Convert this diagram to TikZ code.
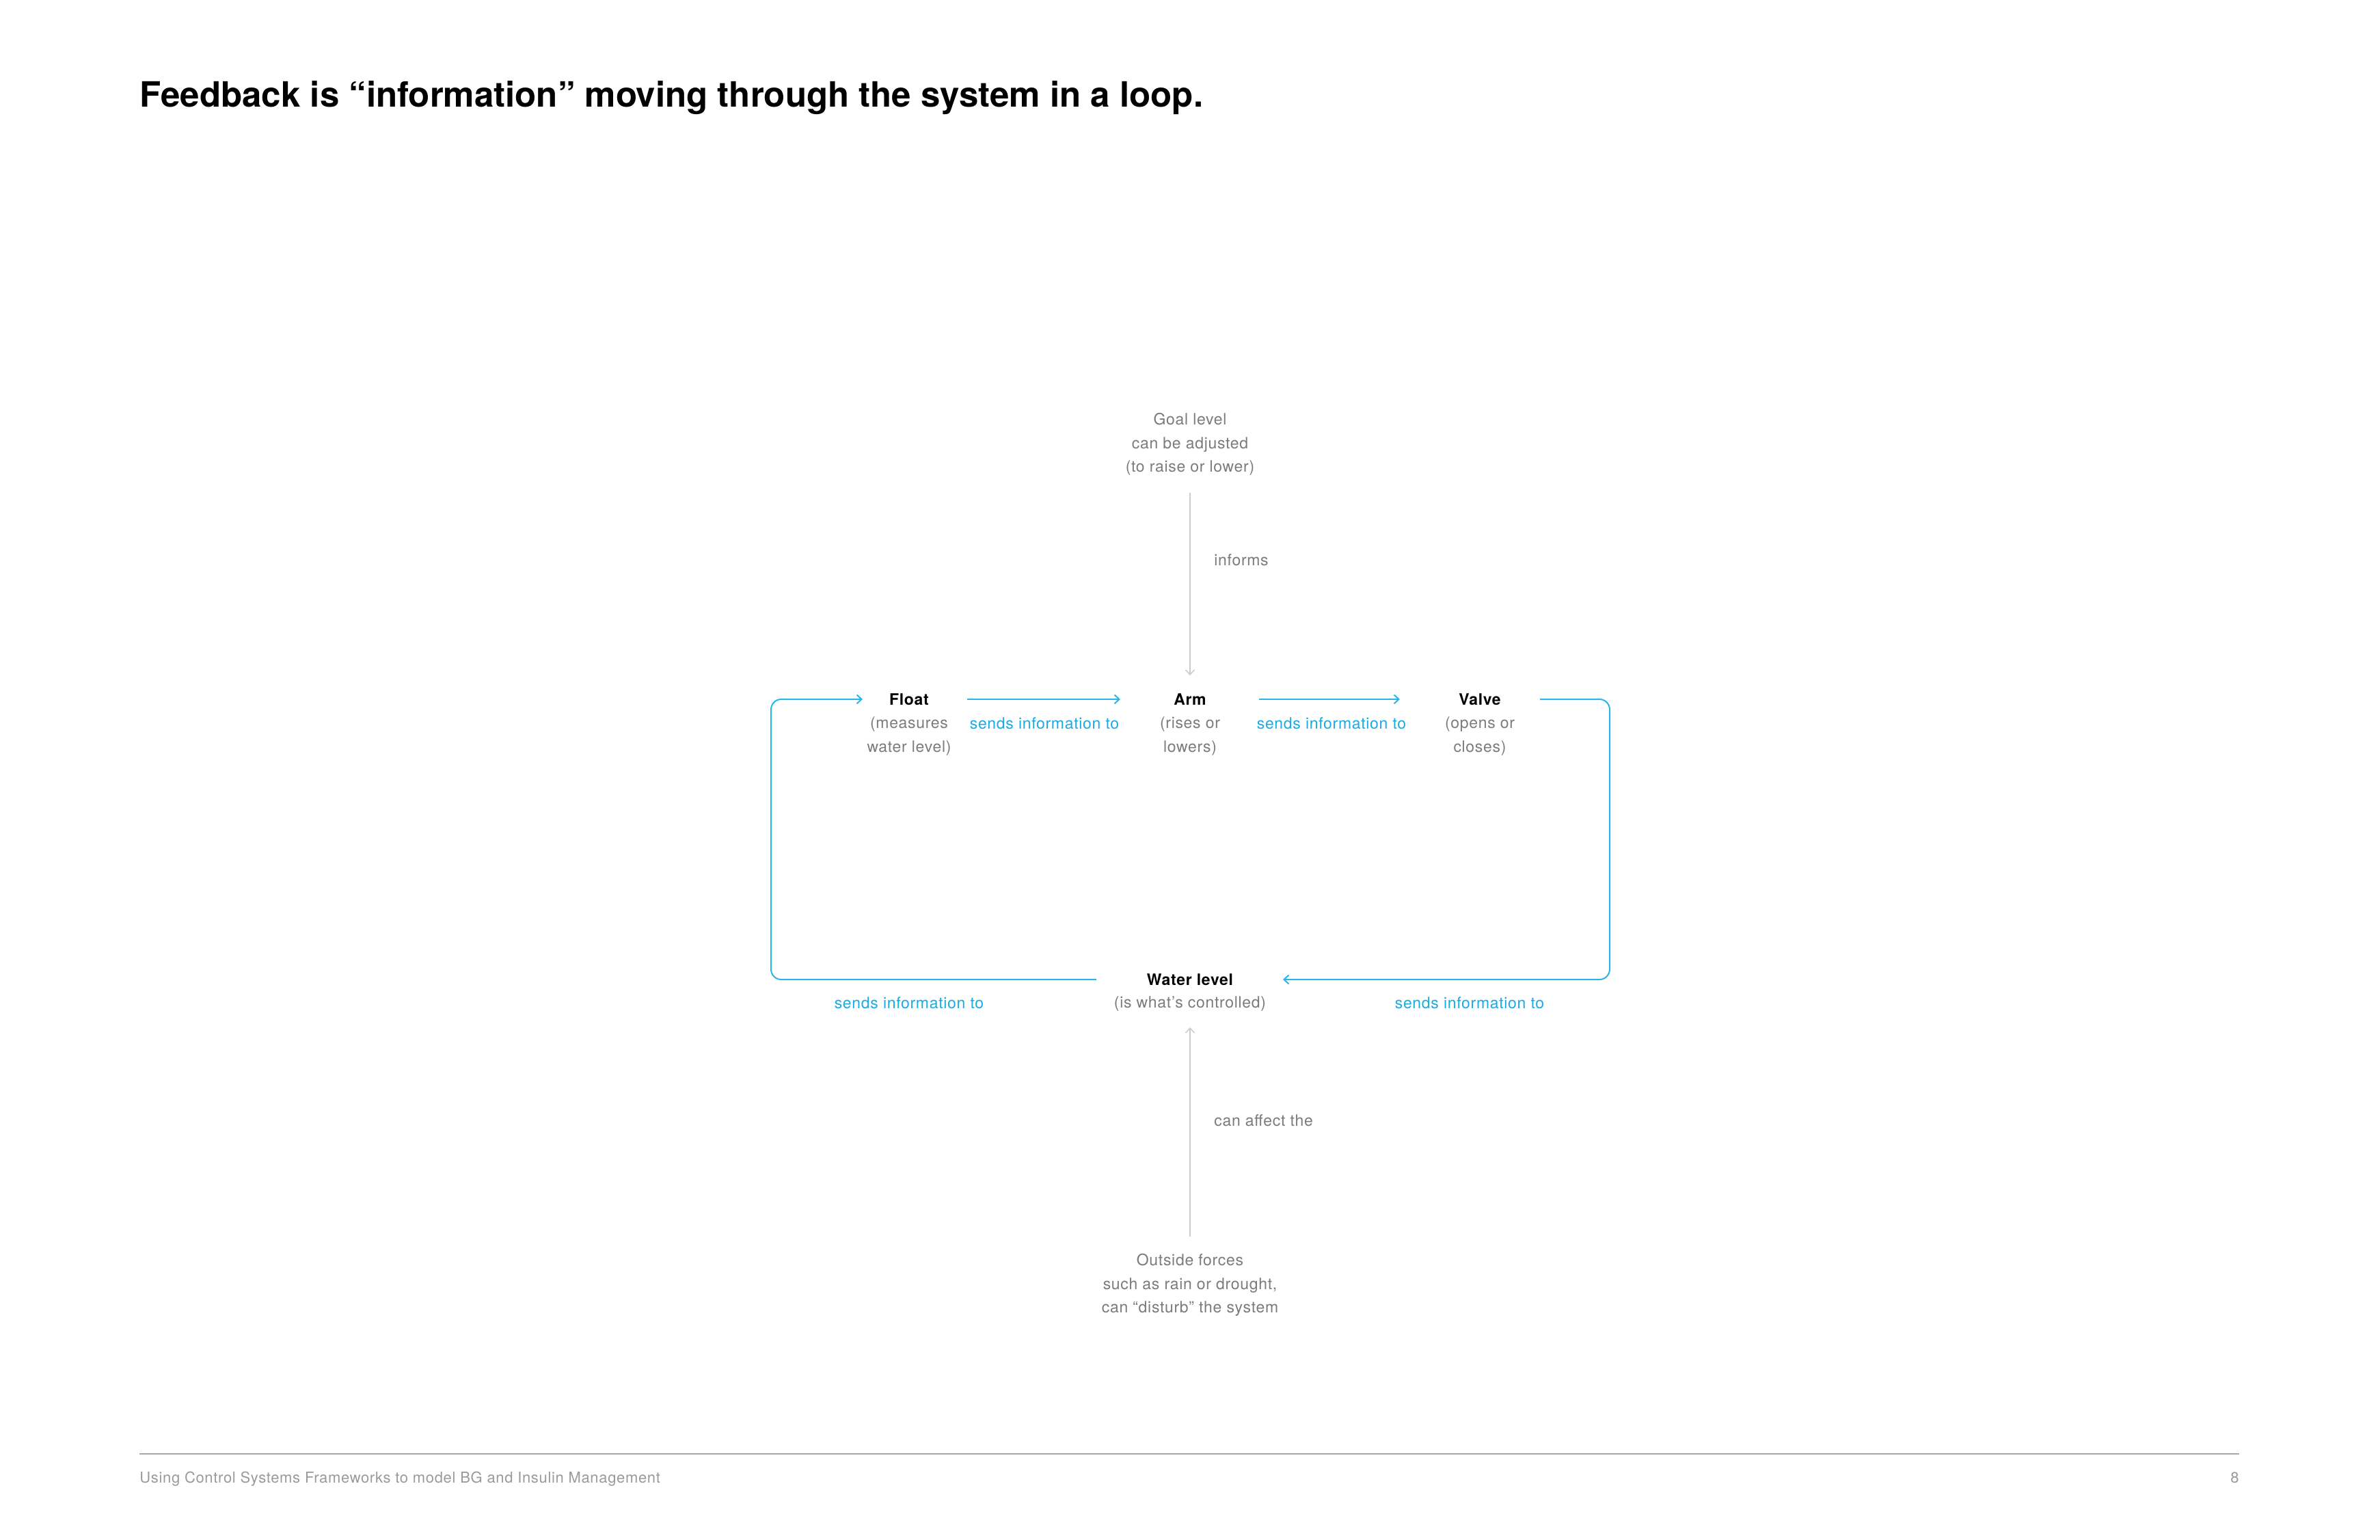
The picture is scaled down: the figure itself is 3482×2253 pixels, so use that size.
\documentclass[tikz,border=0pt]{standalone}
\usepackage{fontspec}
\setmainfont{TeX Gyre Heros}
\newfontfamily\bodyfont[LetterSpace=3]{TeX Gyre Heros}
\usetikzlibrary{arrows.meta}
\definecolor{txtgray}{HTML}{7B7B7B}
\definecolor{lgray}{HTML}{CCCCCC}
\definecolor{flowblue}{HTML}{2BB5EA}
\definecolor{lblblue}{HTML}{1AABE3}
\definecolor{footgray}{HTML}{9A9A9A}
\definecolor{rulegray}{HTML}{A8A8A8}
\tikzset{
  body/.style={inner sep=0pt, align=center, font=\bodyfont\fontsize{11.5pt}{17.2pt}\selectfont, text=txtgray},
  namebox/.style={inner sep=0pt, font=\bodyfont\fontsize{11.5pt}{17.2pt}\selectfont\bfseries, text=black},
  flowlbl/.style={inner sep=0pt, font=\bodyfont\fontsize{11.5pt}{17.2pt}\selectfont, text=lblblue},
  flow/.style={draw=flowblue, line width=1pt, -{Straight Barb[length=3.5pt,width=6.5pt,line width=1pt]}},
  garrow/.style={draw=lgray, line width=0.75pt, -{Straight Barb[length=3.5pt,width=6.5pt,line width=0.75pt]}},
}
\begin{document}
\begin{tikzpicture}[x=0.5pt,y=-0.5pt]
\useasboundingbox[fill=white] (0,0) rectangle (3482,2253);

% title
\node[inner sep=0pt, anchor=base west, font=\fontsize{25.5pt}{30pt}\selectfont\bfseries] (title) at (204,156)
  {Feedback is “information” moving through the system in a loop.};

% main nodes
\node[namebox] (float) at (1330,1023) {Float};
\node[body] (floatd) at (1330,1077) {(measures\\water level)};
\node[namebox] (arm) at (1741,1023) {Arm};
\node[body] (armd) at (1741,1077) {(rises or\\lowers)};
\node[namebox] (valve) at (2165,1023) {Valve};
\node[body] (valved) at (2165,1077) {(opens or\\closes)};
\node[namebox] (water) at (1741,1433) {Water level};
\node[body] (waterd) at (1741,1469) {(is what’s controlled)};

\node[body] (goal) at (1741,650) {Goal level\\can be adjusted\\(to raise or lower)};
\node[body] (outside) at (1741,1880) {Outside forces\\such as rain or drought,\\can “disturb” the system};

% labels
\node[flowlbl] (l1) at (1528,1058) {sends information to};
\node[flowlbl] (l2) at (1948,1058) {sends information to};
\node[flowlbl] (l3) at (1330,1467) {sends information to};
\node[flowlbl] (l4) at (2150,1467) {sends information to};
\node[body, anchor=west] (informs) at (1776,819) {informs};
\node[body, anchor=west] (affect) at (1776,1639) {can affect the};

% connectors
\draw[flow, shorten <=42.5pt, shorten >=51pt] (float.center) -- (arm.center);
\draw[flow, shorten <=50.5pt, shorten >=58.5pt] (arm.center) -- (valve.center);
\draw[flow, rounded corners=7.5pt] ([xshift=44pt]valve.center) -| ([xshift=307pt]water.center) -- ([xshift=68pt]water.center);
\draw[flow, rounded corners=7.5pt] ([xshift=-68.5pt]water.center) -| ([xshift=-101pt]float.center) -- ([xshift=-34pt]float.center);
\draw[garrow, shorten <=35.5pt, shorten >=17.5pt] (goal.center) -- (arm.center);
\draw[garrow, shorten <=35.5pt, shorten >=35pt] (outside.center) -- (water.center);

% footer
\coordinate (fl) at (204,2127);
\coordinate (fr) at (3276,2127);
\draw[rulegray, line width=1pt] (fl) -- (fr);
\node[inner sep=0pt, anchor=base west, text=footgray, font=\bodyfont\fontsize{11pt}{13pt}\selectfont] (foot) at (204,2169) {Using Control Systems Frameworks to model BG and Insulin Management};
\node[inner sep=0pt, anchor=base east, text=footgray, font=\bodyfont\fontsize{11pt}{13pt}\selectfont] (page) at (3276,2169) {8};
\end{tikzpicture}
\end{document}
